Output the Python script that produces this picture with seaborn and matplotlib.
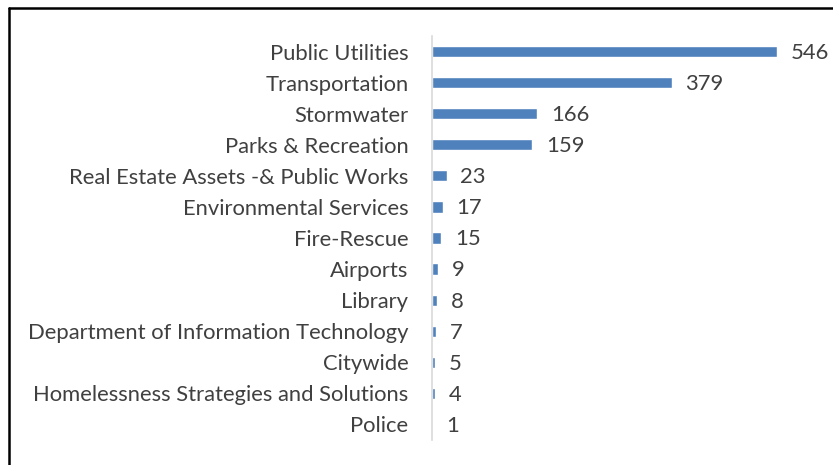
import matplotlib
matplotlib.use("Agg")
import matplotlib.pyplot as plt
import seaborn as sns
import pandas as pd
from matplotlib.lines import Line2D

# data
departments = [
    "Public Utilities", "Transportation", "Stormwater", "Parks & Recreation",
    "Real Estate Assets -& Public Works", "Environmental Services", "Fire-Rescue",
    "Airports", "Library", "Department of Information Technology", "Citywide",
    "Homelessness Strategies and Solutions", "Police",
]
counts = [546, 379, 166, 159, 23, 17, 15, 9, 8, 7, 5, 4, 1]

df = pd.DataFrame({"dept": departments, "count": counts})

sns.set_theme(style="white")
plt.rcParams['font.family'] = ['Lato', 'DejaVu Sans']

W, H = 833, 465
fig = plt.figure(figsize=(W / 100, H / 100), dpi=100)
ax = fig.add_axes([432 / W, 1 - 440 / H, (W - 432) / W, (440 - 36) / H])

sns.barplot(data=df, y="dept", x="count", orient="h", color="#4F81BD",
            saturation=1, width=0.36, ax=ax)

ax.set_xlim(0, (W - 432) / 0.632)
ax.set_ylim(len(departments) - 0.5, -0.5)
ax.set_xlabel("")
ax.set_ylabel("")
ax.set_xticks([])
ax.tick_params(axis="y", length=0, pad=17, labelsize=15.8, labelcolor="#404040")
for s in ["top", "right", "bottom"]:
    ax.spines[s].set_visible(False)
ax.spines["left"].set_color("#d9d9d9")
ax.spines["left"].set_linewidth(1.2)

for i, v in enumerate(counts):
    ax.annotate(str(v), (v, i), xytext=(10, -1), textcoords="offset points",
                va="center", ha="left", fontsize=15.8, color="#404040")

# frame lines (left and top only visible in the crop)
fig.add_artist(Line2D([8.5 / W, 8.5 / W], [0, 1 - 8.5 / H], transform=fig.transFigure,
                      color="black", lw=1.8))
fig.add_artist(Line2D([8.5 / W, 1], [1 - 8.5 / H, 1 - 8.5 / H], transform=fig.transFigure,
                      color="black", lw=1.8))

fig.savefig("out.png", dpi=100, facecolor="white")
